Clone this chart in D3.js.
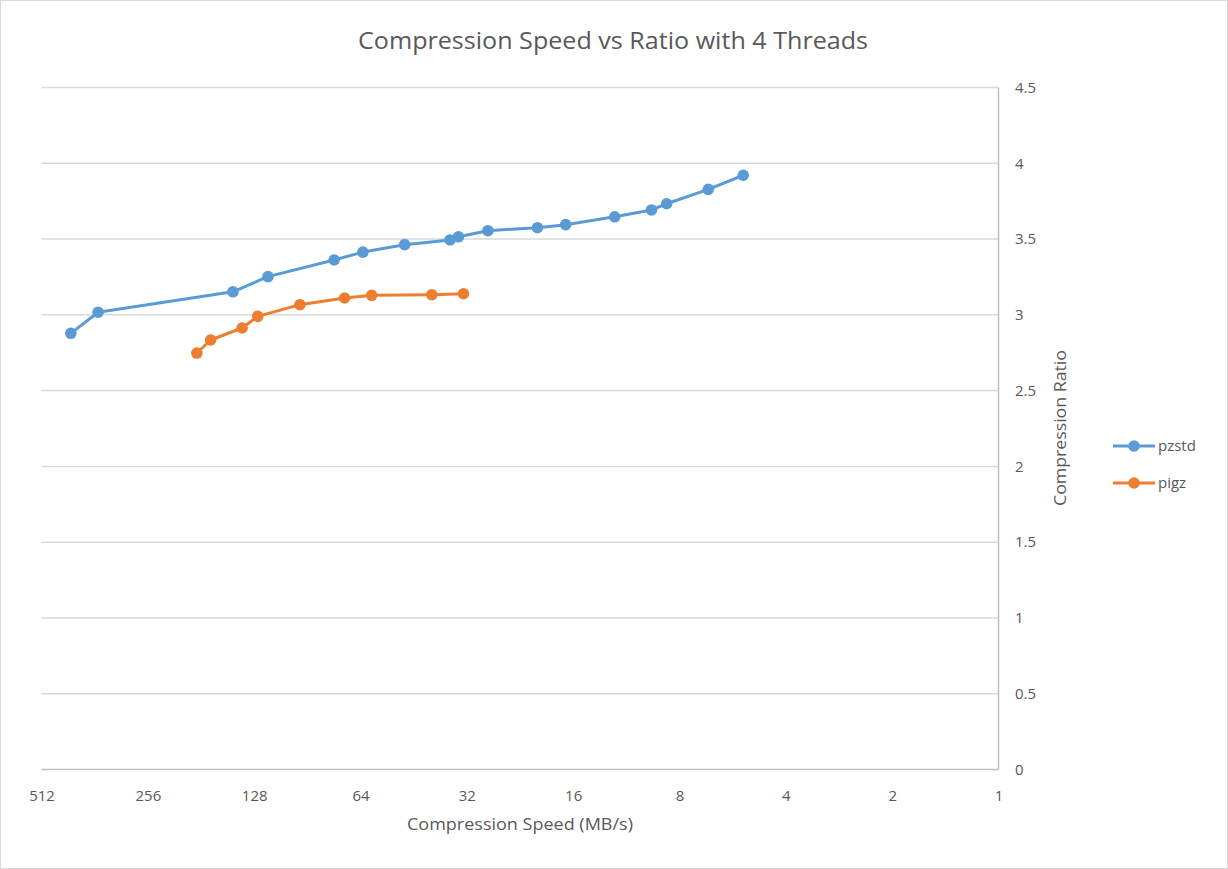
<!DOCTYPE html>
<html>
<head>
<meta charset="utf-8">
<script src="https://cdn.jsdelivr.net/npm/d3@7"></script>
<style>
  body { margin: 0; background: #fff; }
  text { font-family: "Open Sans", sans-serif; fill: #595959; }
</style>
</head>
<body>
<script>
// values
var pzstdSpeed = [423, 354, 147, 117, 76, 63, 48, 35.7, 33.8, 27.9, 20.2, 16.8, 12.2, 9.6, 8.7, 6.63, 5.28];
var pzstdRatio = [2.878, 3.017, 3.152, 3.252, 3.362, 3.414, 3.463, 3.494, 3.515, 3.555, 3.575, 3.595, 3.647, 3.692, 3.733, 3.828, 3.921];
var pigzSpeed = [186, 170, 138.5, 125, 95, 71, 59.5, 40.2, 32.7];
var pigzRatio = [2.748, 2.834, 2.913, 2.990, 3.067, 3.111, 3.129, 3.133, 3.139];
var xTicks = [512, 256, 128, 64, 32, 16, 8, 4, 2, 1];
var yTicks = [0, 0.5, 1, 1.5, 2, 2.5, 3, 3.5, 4, 4.5];
var seriesNames = ["pzstd", "pigz"];
var seriesColors = ["#5b9bd5", "#ed7d31"];

var width = 1228, height = 869;

var svg = d3.select("body").append("svg")
    .attr("width", width)
    .attr("height", height);

// chart border
svg.append("rect")
    .attr("x", 0.5).attr("y", 0.5)
    .attr("width", width - 1).attr("height", height - 1)
    .attr("fill", "#fff")
    .attr("stroke", "#d9d9d9");

var xScale = d3.scaleLog().base(2).domain([512, 1]).range([41.5, 998.5]);
var yScale = d3.scaleLinear().domain([0, 4.5]).range([769.5, 87.5]);

// gridlines
svg.append("g")
    .selectAll("line")
    .data(yTicks)
    .enter()
    .append("line")
    .attr("x1", xScale(512))
    .attr("x2", xScale(1))
    .attr("y1", function(d) { return yScale(d); })
    .attr("y2", function(d) { return yScale(d); })
    .attr("stroke", function(d) { return d === 0 ? "#bfbfbf" : "#d9d9d9"; })
    .attr("stroke-width", 1.5);

// right y axis line
svg.append("line")
    .attr("x1", xScale(1)).attr("x2", xScale(1))
    .attr("y1", yScale(0)).attr("y2", yScale(4.5))
    .attr("stroke", "#bfbfbf")
    .attr("stroke-width", 1.5);

// x axis labels
var xAxis = svg.append("g")
    .attr("transform", "translate(0," + 790 + ")")
    .call(d3.axisBottom(xScale).tickValues(xTicks).tickFormat(d3.format("d")).tickSize(0).tickPadding(0));
xAxis.select(".domain").remove();
xAxis.selectAll("text")
    .attr("font-size", "15px")
    .attr("font-family", "Open Sans, sans-serif")
    .attr("fill", "#595959");

// y axis labels (right side)
var yAxis = svg.append("g")
    .attr("transform", "translate(" + 1015 + ",0)")
    .call(d3.axisRight(yScale).tickValues(yTicks).tickFormat(d3.format("")).tickSize(0).tickPadding(0));
yAxis.select(".domain").remove();
yAxis.selectAll("text")
    .attr("font-size", "15px")
    .attr("font-family", "Open Sans, sans-serif")
    .attr("fill", "#595959");

// title
svg.append("text")
    .attr("x", 613)
    .attr("y", 49)
    .attr("text-anchor", "middle")
    .attr("font-size", "23px")
    .attr("textLength", 510)
    .attr("lengthAdjust", "spacingAndGlyphs")
    .text("Compression Speed vs Ratio with 4 Threads");

// axis titles
svg.append("text")
    .attr("x", 520)
    .attr("y", 830)
    .attr("text-anchor", "middle")
    .attr("font-size", "15.5px")
    .attr("textLength", 226)
    .attr("lengthAdjust", "spacingAndGlyphs")
    .text("Compression Speed (MB/s)");

svg.append("text")
    .attr("transform", "translate(1066,428) rotate(-90)")
    .attr("text-anchor", "middle")
    .attr("font-size", "15.5px")
    .attr("textLength", 156)
    .attr("lengthAdjust", "spacingAndGlyphs")
    .text("Compression Ratio");

// series
var series = [
    { name: seriesNames[0], color: seriesColors[0], speed: pzstdSpeed, ratio: pzstdRatio },
    { name: seriesNames[1], color: seriesColors[1], speed: pigzSpeed, ratio: pigzRatio }
];

var line = d3.line()
    .x(function(d) { return xScale(d[0]); })
    .y(function(d) { return yScale(d[1]); });

series.forEach(function(s) {
    var pts = d3.zip(s.speed, s.ratio);
    var g = svg.append("g");
    g.append("path")
        .datum(pts)
        .attr("d", line)
        .attr("fill", "none")
        .attr("stroke", s.color)
        .attr("stroke-width", 3)
        .attr("stroke-linejoin", "round");
    g.selectAll("circle")
        .data(pts)
        .enter()
        .append("circle")
        .attr("cx", function(d) { return xScale(d[0]); })
        .attr("cy", function(d) { return yScale(d[1]); })
        .attr("r", 5.8)
        .attr("fill", s.color);
});

// legend
var legend = svg.append("g")
    .selectAll("g")
    .data(series)
    .enter()
    .append("g")
    .attr("transform", function(d, i) { return "translate(1113," + (446 + i * 37) + ")"; });

legend.append("line")
    .attr("x1", 0).attr("x2", 42)
    .attr("stroke", function(d) { return d.color; })
    .attr("stroke-width", 3);
legend.append("circle")
    .attr("cx", 21).attr("r", 5.8)
    .attr("fill", function(d) { return d.color; });
legend.append("text")
    .attr("x", 45)
    .attr("dy", "0.35em")
    .attr("font-size", "15px")
    .text(function(d) { return d.name; });
</script>
</body>
</html>
